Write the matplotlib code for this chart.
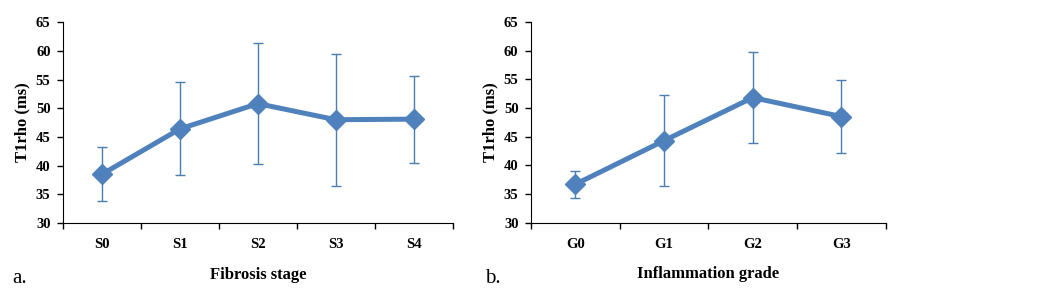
import numpy as np
import matplotlib.pyplot as plt
import matplotlib

matplotlib.rcParams.update({'font.family': 'Liberation Serif'})

# fibrosis stage panel
stages = ['S0', 'S1', 'S2', 'S3', 'S4']
stage_mean = [38.5, 46.4, 50.8, 48.0, 48.1]
stage_sd = [4.7, 8.1, 10.5, 11.5, 7.6]

# inflammation grade panel
grades = ['G0', 'G1', 'G2', 'G3']
grade_mean = [36.7, 44.3, 51.8, 48.5]
grade_sd = [2.4, 7.9, 7.9, 6.3]

line_col = '#4F81BD'
err_col = '#4A7EB0'

fig = plt.figure(figsize=(10.59, 2.99), dpi=100)
ax1 = fig.add_axes([0.0595, 0.254, 0.368, 0.672])
ax2 = fig.add_axes([0.5014, 0.255, 0.335, 0.672])


def panel(ax, cats, mean, sd, xlabel):
    x = np.arange(len(cats))
    ax.errorbar(x, mean, yerr=sd, fmt='none', ecolor=err_col, elinewidth=1,
                capsize=3.5, capthick=1, zorder=2)
    ax.plot(x, mean, '-D', color=line_col, lw=3.6, ms=10, zorder=3)
    ax.set_xlim(-0.5, len(cats) - 0.5)
    ax.set_ylim(30, 65)
    ax.set_yticks(np.arange(30, 66, 5))
    ax.set_xticks(np.arange(len(cats) + 1) - 0.5)
    ax.set_xticklabels([])
    ax.set_xticks(x, minor=True)
    ax.set_xticklabels(cats, minor=True, fontweight='bold', fontsize=10.5)
    ax.tick_params(axis='x', which='major', direction='out', length=4, width=1)
    ax.tick_params(axis='x', which='minor', length=0, pad=11)
    ax.tick_params(axis='y', direction='out', length=4, width=1, pad=5)
    for lab in ax.get_yticklabels():
        lab.set_fontweight('bold')
        lab.set_fontsize(10.5)
    ax.spines['top'].set_visible(False)
    ax.spines['right'].set_visible(False)
    ax.set_ylabel('T1rho (ms)', fontweight='bold', fontsize=12, labelpad=4)
    ax.set_xlabel(xlabel, fontweight='bold', fontsize=12, labelpad=11)


panel(ax1, stages, stage_mean, stage_sd, 'Fibrosis stage')
panel(ax2, grades, grade_mean, grade_sd, 'Inflammation grade')

fig.text(0.012, 0.055, 'a.', fontsize=15)
fig.text(0.458, 0.055, 'b.', fontsize=15)

plt.savefig('out.png', dpi=100)
